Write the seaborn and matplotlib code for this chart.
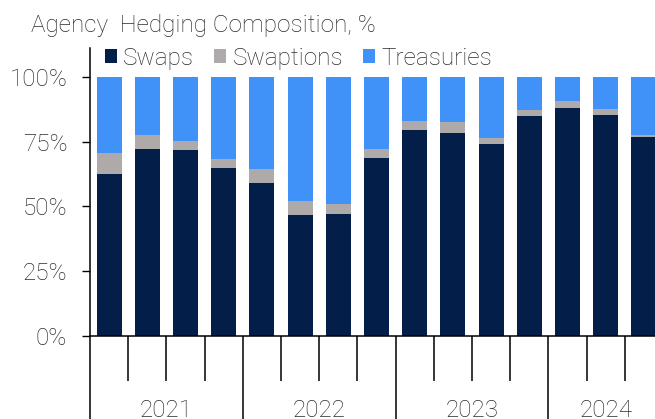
import matplotlib
matplotlib.use("Agg")
import matplotlib.pyplot as plt
from matplotlib.patches import Patch
from matplotlib.transforms import blended_transform_factory
import numpy as np
import pandas as pd
import seaborn as sns

# Quarterly composition of agency hedges, % of total
quarters = ["1Q21", "2Q21", "3Q21", "4Q21",
            "1Q22", "2Q22", "3Q22", "4Q22",
            "1Q23", "2Q23", "3Q23", "4Q23",
            "1Q24", "2Q24", "3Q24"]
swaps = [62.5, 72.0, 71.7, 64.9, 59.1, 46.5, 47.2, 68.5, 79.4, 78.4, 74.2, 85.0, 88.0, 85.2, 76.9]
swaptions = [8.0, 5.4, 3.6, 3.2, 5.4, 5.7, 3.7, 3.6, 3.6, 4.0, 2.2, 2.3, 2.5, 2.5, 0.5]
treasuries = [29.5, 22.6, 24.7, 31.9, 35.5, 47.8, 49.1, 27.9, 17.0, 17.6, 23.6, 12.7, 9.5, 12.3, 22.6]
years = ["2021", "2022", "2023", "2024"]
quarters_per_year = [4, 4, 4, 3]

series_names = ["Swaps", "Swaptions", "Treasuries"]
colors = {"Swaps": "#031E48", "Swaptions": "#AEAAA9", "Treasuries": "#4092F8"}

df = pd.DataFrame({"quarter": quarters, "Swaps": swaps,
                   "Swaptions": swaptions, "Treasuries": treasuries})
df["top_swaptions"] = df["Swaps"] + df["Swaptions"]
df["top_treasuries"] = df["top_swaptions"] + df["Treasuries"]

sns.set_style("white")
plt.rcParams["font.family"] = ["Roboto", "DejaVu Sans"]
plt.rcParams["font.weight"] = "light"
text_color = "#2b2b2b"
fs = 17.5

W, H = 655, 419
fig = plt.figure(figsize=(W / 100, H / 100), dpi=100)
ax_left, ax_right, ax_bottom, ax_top = 90, 655, 336, 48
ax = fig.add_axes([ax_left / W, (H - ax_bottom) / H,
                   (ax_right - ax_left) / W, (ax_bottom - ax_top) / H])

bar_w = 0.655
# stacked bars: draw cumulative totals from tallest to shortest
for col, name in [("top_treasuries", "Treasuries"),
                  ("top_swaptions", "Swaptions"),
                  ("Swaps", "Swaps")]:
    sns.barplot(data=df, x="quarter", y=col, color=colors[name],
                saturation=1, width=bar_w, errorbar=None, ax=ax,
                linewidth=0)

slot_px = 38.2
ax.set_xlim(-0.5, -0.5 + (ax_right - ax_left) / slot_px)
ax.set_ylim(0, 111.1)

ax.set_yticks([0, 25, 50, 75, 100])
ax.set_yticklabels(["0%", "25%", "50%", "75%", "100%"])
ax.tick_params(axis="y", left=True, direction="out", length=5.8, width=1.0,
               pad=10.5, labelsize=fs, colors="black", labelcolor=text_color)
ax.set_xlabel("")
ax.set_ylabel("")

# category axis: long ticks at year boundaries, short ones between quarters
bounds = np.cumsum([0] + quarters_per_year) - 0.5
major = list(bounds[:-1])
minor = [b for b in np.arange(-0.5, len(quarters) + 0.5, 1.0) if b not in bounds]
ax.set_xticks(major)
ax.set_xticklabels([""] * len(major))
ax.set_xticks(minor, minor=True)
ax.tick_params(axis="x", which="major", bottom=True, direction="out",
               length=60, width=1.1, colors="black")
ax.tick_params(axis="x", which="minor", bottom=True, direction="out",
               length=32.5, width=1.1, colors="black")

trans = blended_transform_factory(ax.transData, ax.transAxes)
for i, yr in enumerate(years):
    center = (bounds[i] + bounds[i + 1]) / 2
    ax.text(center, -0.218, yr, transform=trans, ha="center", va="top",
            fontsize=fs, color=text_color, clip_on=False)

for s in ["top", "right"]:
    ax.spines[s].set_visible(False)
for s in ["left", "bottom"]:
    ax.spines[s].set_color("black")
    ax.spines[s].set_linewidth(1.1)

fig.text(31 / W, 1 - 31.5 / H, "Agency  Hedging Composition, %", fontsize=fs,
         color=text_color, ha="left", va="baseline")

handles = [Patch(facecolor=colors[n], edgecolor="none", label=n) for n in series_names]
fig.legend(handles=handles, loc="upper left", bbox_to_anchor=(105 / W, 1 - 47 / H),
           ncol=3, frameon=False, fontsize=fs, handlelength=0.5, handleheight=0.5,
           handletextpad=0.25, columnspacing=0.82, borderpad=0, borderaxespad=0,
           labelcolor=text_color)

fig.savefig("out.png", dpi=100)
